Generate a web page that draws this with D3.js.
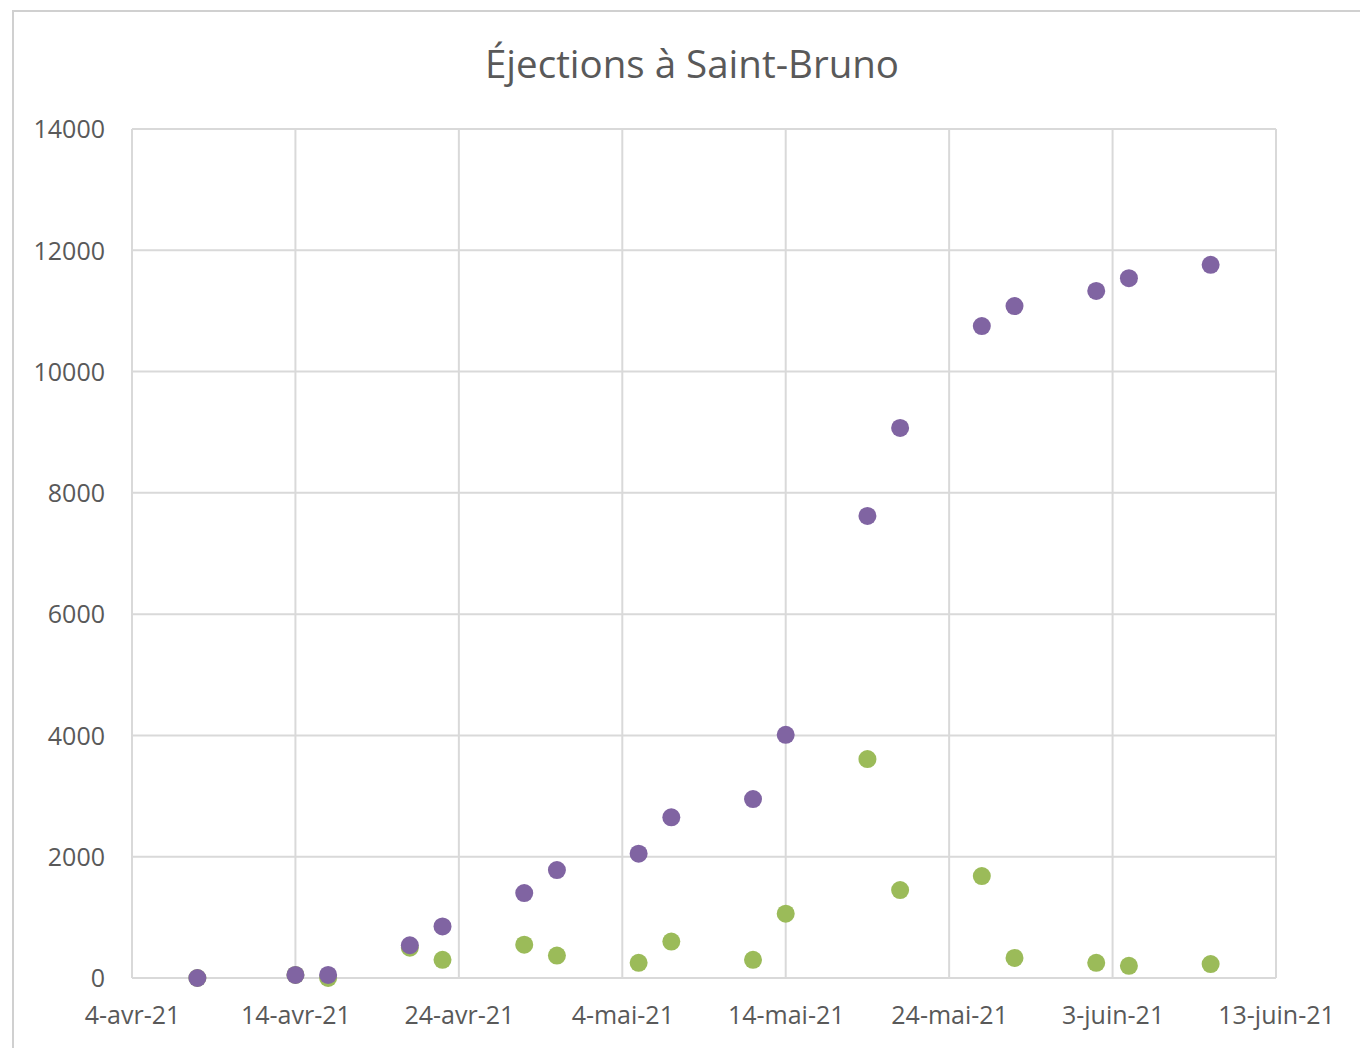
<!DOCTYPE html>
<html>
<head>
<meta charset="utf-8">
<script src="https://cdn.jsdelivr.net/npm/d3@7"></script>
<style>
  body { margin: 0; background: #fff; }
  svg { display: block; }
</style>
</head>
<body>
<div id="chart"></div>
<script>
// dates of the readings
var dates = ["2021-04-08", "2021-04-14", "2021-04-16", "2021-04-21", "2021-04-23",
  "2021-04-28", "2021-04-30", "2021-05-05", "2021-05-07", "2021-05-12", "2021-05-14",
  "2021-05-19", "2021-05-21", "2021-05-26", "2021-05-28", "2021-06-02", "2021-06-04",
  "2021-06-09"];
// purple series (cumulative)
var purpleVals = [0, 50, 50, 540, 850, 1400, 1780, 2050, 2650, 2950, 4010,
  7620, 9070, 10750, 11080, 11330, 11540, 11760];
// green series
var greenVals = [0, 50, 0, 500, 300, 550, 370, 250, 600, 300, 1060,
  3610, 1450, 1680, 330, 250, 200, 230];

var yTicks = [0, 2000, 4000, 6000, 8000, 10000, 12000, 14000];
var xTicks = ["2021-04-04", "2021-04-14", "2021-04-24", "2021-05-04", "2021-05-14",
  "2021-05-24", "2021-06-03", "2021-06-13"];
var moisFr = ["janv", "févr", "mars", "avr", "mai", "juin", "juil", "août", "sept", "oct", "nov", "déc"];

var parse = d3.timeParse("%Y-%m-%d");

var svgWidth = 1360, svgHeight = 1048;
var margin = { top: 129, right: 84, bottom: 70, left: 132 };
var chartWidth = svgWidth - margin.left - margin.right;
var chartHeight = 978 - margin.top;

var svg = d3.select("#chart").append("svg")
  .attr("width", svgWidth)
  .attr("height", svgHeight);

// outer chart border
svg.append("rect")
  .attr("x", 13).attr("y", 11)
  .attr("width", 1360).attr("height", 1060)
  .attr("fill", "#fff")
  .attr("stroke", "#d0d0d0")
  .attr("stroke-width", 2);

svg.append("text")
  .attr("x", 692).attr("y", 78)
  .attr("text-anchor", "middle")
  .attr("font-family", "Open Sans, sans-serif")
  .attr("font-size", 38.5)
  .attr("fill", "#595959")
  .text("Éjections à Saint-Bruno");

var chartGroup = svg.append("g")
  .attr("transform", `translate(${margin.left}, ${margin.top})`);

var xScale = d3.scaleTime()
  .domain([parse(xTicks[0]), parse(xTicks[xTicks.length - 1])])
  .range([0, chartWidth]);

var yScale = d3.scaleLinear()
  .domain([0, 14000])
  .range([chartHeight, 0]);

// gridlines
chartGroup.selectAll(".hgrid")
  .data(yTicks)
  .enter()
  .append("line")
  .attr("x1", 0).attr("x2", chartWidth)
  .attr("y1", d => yScale(d)).attr("y2", d => yScale(d))
  .attr("stroke", "#d9d9d9")
  .attr("stroke-width", 2);

chartGroup.selectAll(".vgrid")
  .data(xTicks)
  .enter()
  .append("line")
  .attr("x1", d => xScale(parse(d))).attr("x2", d => xScale(parse(d)))
  .attr("y1", 0).attr("y2", chartHeight)
  .attr("stroke", "#d9d9d9")
  .attr("stroke-width", 2);

var xAxis = d3.axisBottom(xScale)
  .tickValues(xTicks.map(parse))
  .tickSize(0)
  .tickPadding(28)
  .tickFormat(d => d.getDate() + "-" + moisFr[d.getMonth()] + "-21");

var yAxis = d3.axisLeft(yScale)
  .tickValues(yTicks)
  .tickSize(0)
  .tickPadding(27)
  .tickFormat(d3.format("d"));

var gx = chartGroup.append("g")
  .attr("transform", `translate(0, ${chartHeight})`)
  .call(xAxis);
var gy = chartGroup.append("g")
  .call(yAxis);

[gx, gy].forEach(g => {
  g.select(".domain").remove();
  g.selectAll("text")
    .attr("font-family", "Open Sans, sans-serif")
    .attr("font-size", 25)
    .attr("fill", "#595959");
});
gy.selectAll("text").attr("dy", "0.35em");

// green series first, purple on top
chartGroup.selectAll(".green")
  .data(dates)
  .enter()
  .append("circle")
  .attr("cx", d => xScale(parse(d)))
  .attr("cy", (d, i) => yScale(greenVals[i]))
  .attr("r", 9)
  .attr("fill", "#9BBB59");

chartGroup.selectAll(".purple")
  .data(dates)
  .enter()
  .append("circle")
  .attr("cx", d => xScale(parse(d)))
  .attr("cy", (d, i) => yScale(purpleVals[i]))
  .attr("r", 9)
  .attr("fill", "#8064A2");
</script>
</body>
</html>
